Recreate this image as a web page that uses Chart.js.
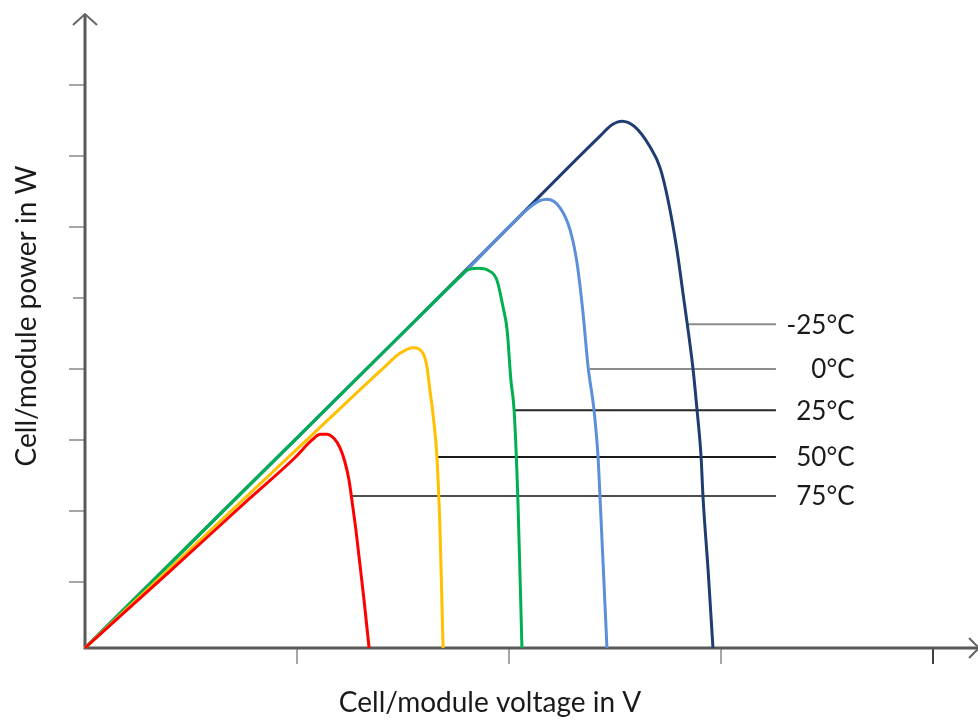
<!DOCTYPE html>
<html>
<head>
<meta charset="utf-8">
<script src="https://cdn.jsdelivr.net/npm/chart.js"></script>
<style>
  body { margin: 0; background: #fff; }
  #wrap { width: 978px; height: 722px; }
</style>
</head>
<body>
<div id="wrap"><canvas id="pvChart" width="978" height="722"></canvas></div>
<script>
// voltage / power points (arbitrary units)
const volt75 = [0, 4, 7.78, 9.90, 10.71, 11.10, 11.40, 11.75, 12.03, 12.26, 12.45, 12.59, 12.78, 12.97, 13.16, 13.40];
const pow75  = [0, 10.8, 21.1, 26.8, 29.3, 30.1, 30.1, 29.5, 28.2, 26.2, 23.7, 20.8, 16.6, 11.7, 6.8, 0];

const volt50 = [0, 5, 10, 14.06, 14.86, 15.47, 15.94, 16.13, 16.27, 16.42, 16.60, 16.75, 16.89];
const pow50  = [0, 14.0, 28.0, 39.4, 41.5, 42.3, 41.5, 39.6, 36.3, 32.8, 26.9, 16.2, 0];

const volt25 = [0, 5, 10, 15, 17.69, 18.02, 18.54, 19.01, 19.43, 19.72, 19.91, 20.09, 20.24, 20.42, 20.61];
const pow25  = [0, 14.8, 29.6, 44.4, 52.3, 53.2, 53.5, 53.2, 51.8, 48.0, 44.8, 37.7, 33.5, 20.8, 0];

const volt0 = [0, 5, 10, 15, 18, 20.99, 21.46, 21.79, 22.41, 22.88, 23.21, 23.49, 23.73, 24.01, 24.20, 24.29, 24.43, 24.62];
const pow0  = [0, 14.8, 29.6, 44.4, 53.2, 62.1, 63.0, 63.2, 62.0, 58.9, 54.2, 47.2, 39.6, 33.5, 26.9, 21.4, 12.4, 0];

const voltM25 = [0, 5, 10, 15, 20, 24.29, 24.86, 25.33, 25.94, 26.65, 27.12, 27.50, 27.92, 28.25, 28.40, 28.68, 28.87, 29.06, 29.15, 29.39, 29.62];
const powM25  = [0, 14.8, 29.6, 44.4, 59.3, 72.1, 73.7, 74.2, 73.4, 70.6, 67.7, 63.1, 56.1, 49.0, 45.8, 39.3, 33.5, 26.9, 21.3, 11.0, 0];

// temperature labels and their leader lines
const tempLabels = ['-25°C', '0°C', '25°C', '50°C', '75°C'];
const leaderY = [45.6, 39.3, 33.5, 26.9, 21.4];
const leaderStart = [28.40, 23.82, 20.24, 16.65, 12.59];
const leaderEnd = 32.59;
const labelRight = 36.3;

// axis tick positions
const xTicks = [10, 20, 30, 40];
const yTicks = [9.3, 19.3, 29.3, 39.3, 49.3, 59.3, 69.3, 79.3];
const xMax = 41.98;
const yMax = 89.3;

const curveColors = ['#ff0000', '#ffc000', '#00b050', '#5b8fd9', '#1f3d72'];
const leaderColors = ['#8c8c8c', '#8c8c8c', '#262626', '#1a1a1a', '#4d4d4d'];

function toPoints(xs, ys) {
  return xs.map((x, i) => ({ x: x, y: ys[i] }));
}

const curves = [
  toPoints(volt75, pow75),
  toPoints(volt50, pow50),
  toPoints(volt25, pow25),
  toPoints(volt0, pow0),
  toPoints(voltM25, powM25)
];

const datasets = [];
curves.forEach((pts, i) => {
  datasets.push({
    data: pts,
    borderColor: curveColors[i],
    borderWidth: 3,
    pointRadius: 0,
    cubicInterpolationMode: 'monotone',
    clip: false,
    order: i
  });
});
// leader lines, drawn beneath the curves
tempLabels.forEach((t, i) => {
  datasets.push({
    data: [{ x: leaderStart[i], y: leaderY[i] }, { x: leaderEnd, y: leaderY[i] }],
    borderColor: leaderColors[i],
    borderWidth: 2,
    pointRadius: 0,
    clip: false,
    order: 10 + i
  });
});

const axesPlugin = {
  id: 'axesPlugin',
  beforeDatasetsDraw(chart) {
    const ctx = chart.ctx;
    const xs = chart.scales.x, ys = chart.scales.y;
    const x0 = xs.getPixelForValue(0), y0 = ys.getPixelForValue(0);
    const yTop = ys.getPixelForValue(yMax);
    const xEnd = chart.width;
    ctx.save();
    // ticks
    ctx.lineWidth = 2;
    yTicks.forEach((v, i) => {
      const py = Math.round(ys.getPixelForValue(v));
      ctx.strokeStyle = '#a6a6a6';
      ctx.beginPath();
      ctx.moveTo(x0 - (i === 4 ? 12 : 16), py);
      ctx.lineTo(x0, py);
      ctx.stroke();
    });
    xTicks.forEach((v, i) => {
      const px = Math.round(xs.getPixelForValue(v));
      ctx.strokeStyle = i === xTicks.length - 1 ? '#404040' : '#a6a6a6';
      ctx.beginPath();
      ctx.moveTo(px, y0);
      ctx.lineTo(px, y0 + 16);
      ctx.stroke();
    });
    // axis lines
    ctx.strokeStyle = '#595959';
    ctx.lineWidth = 3;
    ctx.beginPath();
    ctx.moveTo(x0, yTop);
    ctx.lineTo(x0, y0);
    ctx.lineTo(xEnd, y0);
    ctx.stroke();
    // arrow heads
    ctx.lineWidth = 2;
    ctx.strokeStyle = '#666';
    ctx.beginPath();
    ctx.moveTo(x0 - 12, yTop + 11);
    ctx.lineTo(x0, yTop);
    ctx.lineTo(x0 + 12, yTop + 11);
    ctx.stroke();
    ctx.beginPath();
    ctx.moveTo(xEnd - 9, y0 - 10);
    ctx.lineTo(xEnd + 1, y0);
    ctx.lineTo(xEnd - 9, y0 + 10);
    ctx.stroke();
    ctx.restore();
  },
  afterDraw(chart) {
    const ctx = chart.ctx;
    const xs = chart.scales.x, ys = chart.scales.y;
    ctx.save();
    ctx.fillStyle = '#1a1a1a';
    ctx.font = '26px Lato';
    ctx.textAlign = 'right';
    ctx.textBaseline = 'middle';
    tempLabels.forEach((t, i) => {
      ctx.fillText(t, xs.getPixelForValue(labelRight), ys.getPixelForValue(leaderY[i]) + 1);
    });
    // axis titles
    ctx.textAlign = 'center';
    ctx.font = '28px Lato';
    ctx.fillText('Cell/module voltage in V', 490, 703);
    ctx.translate(27, 316);
    ctx.rotate(-Math.PI / 2);
    ctx.fillText('Cell/module power in W', 0, 0);
    ctx.restore();
  }
};

new Chart(document.getElementById('pvChart'), {
  type: 'line',
  data: { datasets: datasets },
  options: {
    responsive: false,
    animation: false,
    layout: { padding: { left: 85, top: 14, right: 3, bottom: 74 } },
    plugins: { legend: { display: false }, tooltip: { enabled: false } },
    scales: {
      x: { type: 'linear', min: 0, max: xMax, display: false },
      y: { type: 'linear', min: 0, max: yMax, display: false }
    }
  },
  plugins: [axesPlugin]
});
</script>
</body>
</html>
